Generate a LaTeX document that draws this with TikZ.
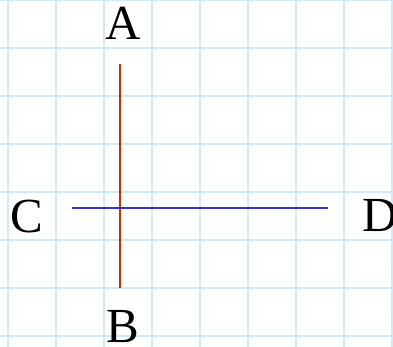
\documentclass[tikz,border=0pt]{standalone}
\usepackage{fontspec}
\setmainfont{Liberation Serif}
\begin{document}
\begin{tikzpicture}[x=1pt,y=1pt,
  gridline/.style={draw={rgb,255:red,204;green,236;blue,250},line width=1.3pt},
  redline/.style={draw={rgb,255:red,204;green,51;blue,0},line width=1.3pt},
  blueline/.style={draw={rgb,255:red,51;green,51;blue,204},line width=1.3pt},
  lbl/.style={anchor=base,inner sep=0pt,font=\fontsize{49}{49}\selectfont}]
\useasboundingbox (0,0) rectangle (393,347);
\foreach \i in {0,...,8} { \draw[gridline] (8+48*\i,0) -- (8+48*\i,347); }
\foreach \j in {0,...,7} { \draw[gridline] (0,347-48*\j) -- (393,347-48*\j); }
\coordinate (ta) at (120,283);
\coordinate (tb) at (120,59);
\coordinate (tc) at (72,139);
\coordinate (td) at (328,139);
\draw[redline] (ta) -- (tb);
\draw[blueline] (tc) -- (td);
\node[lbl] (A) at (123,307) {A};
\node[lbl] (B) at (122.5,4) {B};
\node[lbl] (C) at (27,114) {C};
\node[lbl] (D) at (380,115) {D};
\end{tikzpicture}
\end{document}
